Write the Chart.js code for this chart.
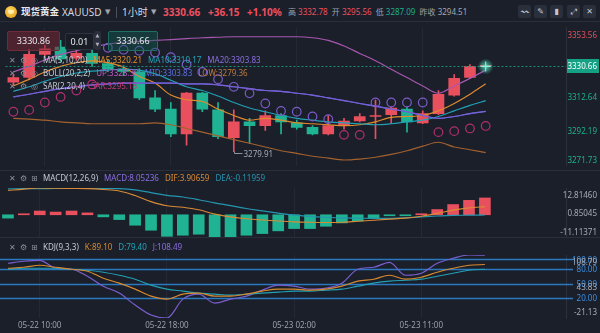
<!DOCTYPE html>
<html>
<head>
<meta charset="utf-8">
<title>现货黄金 XAUUSD 1小时</title>
<script src="https://cdn.jsdelivr.net/npm/chart.js@4.4.1/dist/chart.umd.min.js"></script>
<style>
  html, body { margin: 0; padding: 0; background: #1b1f2a; }
  #app { position: relative; width: 600px; height: 333px; overflow: hidden; background: #1b1f2a;
         font-family: "Noto Sans", "Noto Sans CJK SC", sans-serif; color: #c9ccd4; }
  canvas { position: absolute; left: 0; }
  .t { position: absolute; white-space: nowrap; font-size: 8px; line-height: 10px; }
  .hd { position: absolute; white-space: nowrap; font-size: 10px; line-height: 12px; top: 6px; }
  .ic { font-family: "DejaVu Sans", sans-serif; color: #8b909b; }
  .btn { position: absolute; top: 5px; width: 13px; height: 13px; background: #2a2f3c; border-radius: 2px;
         font-family: "DejaVu Sans", sans-serif; font-size: 8px; line-height: 13px; text-align: center; color: #c3c7cf; }
  .box { position: absolute; border-radius: 2px; text-align: center; font-size: 9px; color: #e6e8ec; }
  .div { position: absolute; left: 0; width: 600px; height: 1px; background: #2a2f3b; }
  .legend span.v { margin-left: 6px; }
</style>
</head>
<body>
<div id="app">
  <!-- header -->
  <div style="position:absolute;left:5px;top:6px;width:12px;height:12px;border-radius:50%;background:radial-gradient(circle at 40% 35%,#ffd860,#e3970f);"></div>
  <div style="position:absolute;left:8px;top:10px;width:6px;height:4px;border-radius:0 0 3px 3px;background:#fff3c8;opacity:.8"></div>
  <span class="hd" style="left:21px;color:#e8eaef;font-size:9.5px;font-weight:600">现货黄金</span>
  <span class="hd" style="left:62px;color:#d5d8df">XAUUSD</span>
  <span class="hd ic" style="left:105px;font-size:7px;color:#a0a5af">▼</span>
  <div style="position:absolute;left:116px;top:7px;width:1px;height:11px;background:#4a505c"></div>
  <span class="hd" style="left:122px;color:#d5d8df">1小时</span>
  <span class="hd ic" style="left:151px;font-size:7px;color:#a0a5af">▼</span>
  <span class="hd" id="hdPrice" style="left:163px;color:#f0505e;font-weight:700"></span>
  <span class="hd" id="hdChg" style="left:208px;color:#f0505e;font-weight:700"></span>
  <span class="hd" id="hdPct" style="left:247px;color:#f0505e;font-weight:700"></span>
  <span class="t" id="hdStats" style="left:288px;top:7px;color:#9ea3ad"></span>
  <div class="btn" style="left:518px">〰</div>
  <div class="btn" style="left:534px">✎</div>
  <div class="btn" style="left:550px">▮</div>
  <div class="btn" style="left:567px">⤢</div>
  <div class="btn" style="left:583px">✕</div>

  <div class="div" style="top:21px"></div>
  <canvas id="mainCv" style="top:22px" width="600" height="149"></canvas>
  <div class="div" style="top:170px"></div>
  <canvas id="macdCv" style="top:171px" width="600" height="67"></canvas>
  <div class="div" style="top:237px"></div>
  <canvas id="kdjCv" style="top:238px" width="600" height="95"></canvas>

  <!-- quote boxes -->
  <div class="box" id="askBox" style="left:7px;top:31px;width:51px;height:18px;line-height:18px;background:rgba(120,38,52,.55);border:1px solid #6e2c3b"></div>
  <div class="box" style="left:65px;top:33px;width:27px;height:15px;line-height:15px;background:#191d26;border:1px solid #2e3340">0.01</div>
  <div class="box ic" style="left:94px;top:31px;width:7px;height:19px;background:#2a2f3b;font-size:5px;line-height:9px;color:#aab">▲<br>▼</div>
  <div class="box" id="bidBox" style="left:108px;top:31px;width:48px;height:18px;line-height:18px;background:rgba(18,92,80,.45);border:1px solid #1d6f61"></div>

  <div class="t legend" id="lgMA" style="left:9px;top:55px"></div>
  <div class="t legend" id="lgBOLL" style="left:9px;top:68px"></div>
  <div class="t legend" id="lgSAR" style="left:9px;top:81px"></div>
  <div class="t legend" id="lgMACD" style="left:9px;top:173px"></div>
  <div class="t legend" id="lgKDJ" style="left:9px;top:242px"></div>
</div>

<script>
// ---- hourly bars, 05-22 08:00 .. 05-23 15:00 ----
const timeLabels = [
  '05-22 08:00','05-22 09:00','05-22 10:00','05-22 11:00','05-22 12:00','05-22 13:00','05-22 14:00','05-22 15:00',
  '05-22 16:00','05-22 17:00','05-22 18:00','05-22 19:00','05-22 20:00','05-22 21:00','05-22 22:00','05-22 23:00',
  '05-23 00:00','05-23 01:00','05-23 02:00','05-23 03:00','05-23 04:00','05-23 05:00','05-23 07:00','05-23 08:00',
  '05-23 09:00','05-23 10:00','05-23 11:00','05-23 12:00','05-23 13:00','05-23 14:00','05-23 15:00'
];
const axisBars = [2, 10, 18, 26];   // bars that carry a time label

const openP  = [3321.2,3323.9,3337.6,3342.0,3335.4,3338.2,3332.2,3329.0,3327.2,3311.8,3305.2,3290.4,3314.6,3304.7,3288.2,3297.6,
                3295.4,3301.4,3297.0,3294.3,3290.4,3295.9,3298.1,3300.8,3301.9,3305.2,3297.0,3302.5,3313.5,3323.9,3330.5];
const highP  = [3325.6,3340.4,3343.2,3346.0,3340.5,3340.0,3334.5,3331.0,3329.0,3316.2,3309.1,3315.1,3315.1,3309.1,3304.7,3299.7,
                3304.1,3302.5,3298.6,3295.4,3301.4,3299.7,3302.5,3310.5,3306.3,3306.3,3304.1,3316.2,3325.6,3331.6,3330.86];
const lowP   = [3319.5,3322.8,3336.0,3333.5,3334.0,3330.5,3327.5,3325.0,3310.7,3303.6,3288.8,3283.8,3303.6,3287.7,3279.91,3284.9,
                3292.6,3290.4,3293.2,3289.9,3289.9,3293.2,3297.6,3287.7,3296.5,3291.5,3296.5,3301.9,3312.9,3323.4,3330.4];
const closeP = [3323.9,3337.6,3340.9,3334.9,3338.2,3332.2,3329.0,3327.5,3311.8,3305.2,3290.4,3314.6,3305.2,3288.8,3297.6,3295.4,
                3301.4,3297.6,3294.3,3290.4,3295.4,3298.1,3300.8,3301.4,3305.8,3297.6,3302.5,3314.0,3323.4,3330.5,3330.66];

const ma5  = [3319.0,3322.8,3327.2,3330.5,3332.7,3333.8,3332.7,3330.0,3324.5,3320.6,3313.5,3310.7,3309.7,3305.2,3301.4,3298.6,
              3299.7,3298.6,3297.0,3296.5,3295.9,3295.4,3295.9,3297.6,3300.3,3300.8,3301.4,3304.1,3308.5,3314.0,3320.21];
const ma10 = [3315.7,3318.4,3321.7,3324.5,3326.6,3327.7,3328.3,3328.8,3328.3,3326.1,3322.3,3318.4,3316.2,3312.9,3309.1,3305.8,
              3303.6,3301.4,3299.7,3298.6,3297.6,3297.0,3296.5,3295.9,3296.5,3297.6,3298.6,3300.8,3304.1,3307.4,3310.17];
const ma20 = [3312.4,3314.0,3315.7,3317.3,3318.4,3319.5,3320.1,3320.6,3320.6,3320.6,3320.6,3320.1,3320.1,3319.5,3318.4,3317.3,
              3316.2,3315.7,3314.6,3313.5,3311.8,3310.2,3308.5,3306.9,3305.2,3303.6,3301.4,3299.7,3300.8,3302.5,3303.83];
const bollUp  = [3327.2,3330.5,3334.3,3337.6,3339.8,3342.0,3343.7,3344.8,3345.3,3345.9,3346.4,3347.0,3347.5,3347.8,3348.1,3348.1,
                 3348.1,3348.1,3348.1,3347.5,3345.9,3342.6,3338.2,3333.8,3328.8,3323.9,3318.9,3314.6,3318.9,3323.4,3328.30];
const bollLow = [3299.7,3299.2,3298.6,3297.6,3297.0,3296.5,3296.5,3296.5,3296.5,3297.0,3295.9,3293.7,3291.5,3289.3,3287.1,3284.9,
                 3282.7,3280.5,3278.9,3277.2,3276.1,3275.0,3275.5,3276.6,3278.3,3280.5,3283.2,3285.5,3282.7,3281.1,3279.36];
const sarP = [3303.6,3304.7,3309.1,3312.4,3316.2,3319.8,3341.5,3340.4,3339.8,3338.7,3336.0,3331.6,3327.2,3322.9,3318.4,3314.6,
              3308.5,3304.1,3303.6,3300.8,3299.2,3289.9,3289.9,3309.1,3309.1,3309.1,3309.1,3291.5,3292.1,3293.7,3295.18];

const macdBar = [-1.6,0.3,1.8,1.3,1.8,0.9,-1.0,-2.3,-5.0,-7.4,-10.3,-9.8,-9.3,-11.11371,-10.6,-9.8,
                 -9.0,-7.7,-6.6,-6.6,-5.5,-3.9,-3.0,-1.8,-0.4,-0.4,0.5,2.5,4.9,6.9,8.05236];
const difLine = [11.6,12.3,12.8146,12.7,12.6,12.5,12.1,11.4,9.2,6.3,4.3,3.6,2.4,0.3,-1.0,-1.9,
                 -2.5,-3.0,-3.4,-3.6,-3.7,-3.6,-3.1,-2.6,-2.1,-1.6,-0.7,0.7,2.2,3.3,3.90659];
const deaLine = [12.4,12.5,12.5,12.6,12.6,12.6,12.6,12.5,11.9,10.6,9.3,8.5,7.2,5.7,4.4,3.0,
                 1.9,0.8,-0.2,-0.8,-1.2,-1.5,-1.6,-1.7,-1.7,-1.5,-1.0,-0.6,-0.3,-0.2,-0.11959];

const kLine = [81.4,83.5,87.6,83.5,79.4,75.3,60.9,50.7,38.4,24.0,17.8,28.1,30.2,24.0,24.0,28.1,
               34.3,38.4,38.4,36.3,38.4,44.5,54.8,58.9,67.1,58.9,63.0,73.2,81.4,87.6,89.10];
const dLine = [79.4,81.4,81.4,81.4,79.4,77.3,73.2,67.1,58.9,46.6,38.4,34.3,30.2,28.1,26.1,28.1,
               30.2,32.2,34.3,34.3,36.3,38.4,44.5,50.7,54.8,56.8,58.9,65.0,71.2,77.3,79.40];
const jLine = [91.7,95.8,97.8,81.4,79.4,65.0,44.4,30.2,5.5,-15.0,-21.13,17.8,28.1,9.6,17.8,24.0,
               36.3,46.6,44.5,38.4,40.4,50.7,79.4,83.5,93.7,67.1,71.2,91.7,102.0,108.79,108.49];

const priceTicks = [3353.56, 3333.10, 3312.64, 3292.19, 3271.73];
const macdTicks  = [12.81460, 0.85045, -11.11371];
const kdjTicks   = [108.79, 43.83, -21.13];
const kdjLevels  = [100, 80, 50, 20];

const prevClose = 3294.51;
const dayStats = [['高', 3332.78], ['开', 3295.56], ['低', 3287.09], ['昨收', 3294.51]];
const askPrice = 3330.86;

// ---- styling ----
const FONT = '"Noto Sans", "DejaVu Sans", sans-serif';
const C = {
  grid: '#242935', border: '#2b303c', up: '#e9505e', down: '#1fb393',
  ma5: '#e08b2c', ma10: '#22a0b6', ma20: '#7a5fd6', mid: '#5863d8', bUp: '#a757ae', bLow: '#a3612f',
  sarHi: '#7a5cc8', sarLo: '#b0306f', dif: '#d98a35', dea: '#2596b0',
  k: '#d8892f', d: '#22a0b5', j: '#7b5fd0', level: '#2b78be', levelTxt: '#3d8fe0', axisTxt: '#a6abb5'
};
const N = closeP.length;
const VIEW_BARS = 35.6;   // bars that fit across the plot width
const pts = a => a.map((v, i) => ({ x: i, y: v }));
const last = a => a[a.length - 1];
const lastClose = last(closeP);

function xScale(showTicks) {
  return {
    type: 'linear', min: -0.5, max: VIEW_BARS - 0.5, offset: false,
    grid: { color: C.grid, drawTicks: false, lineWidth: 1, offset: false },
    border: { display: false },
    afterBuildTicks: s => { s.ticks = axisBars.map(v => ({ value: v })); },
    ticks: { display: showTicks, autoSkip: false, maxRotation: 0, padding: 3, color: '#9aa0aa',
             font: { family: FONT, size: 8 }, callback: v => timeLabels[v] },
    afterFit: s => { s.height = showTicks ? 15 : 0; s.paddingLeft = 0; s.paddingRight = 0; }
  };
}
function yScale(min, max) {
  return { position: 'right', min, max, grid: { display: false },
           border: { display: true, color: C.border }, ticks: { display: false },
           afterFit: s => { s.width = 34; } };
}
function line(data, color, extra) {
  return Object.assign({ type: 'line', data: pts(data), borderColor: color, borderWidth: 1.15,
    pointRadius: 0, fill: false, cubicInterpolationMode: 'monotone', order: 2 }, extra || {});
}
function axisLabels(ticks, decimals, colorFn, skipFn) {
  return {
    id: 'axisLabels',
    afterDraw(chart) {
      const { ctx, chartArea: a, scales: { y } } = chart;
      ctx.save();
      ctx.font = `8px ${FONT}`; ctx.textAlign = 'right'; ctx.textBaseline = 'middle';
      ticks.forEach(v => {
        if (skipFn && skipFn(v, y)) return;
        let py = y.getPixelForValue(v);
        py = Math.min(a.bottom - 6, Math.max(a.top + 7, py));
        ctx.fillStyle = colorFn(v);
        ctx.fillText(v.toFixed(decimals), 597, py + 1);
      });
      ctx.restore();
    }
  };
}
const base = {
  responsive: false, animation: false, events: [],
  layout: { padding: 0 },
  plugins: { legend: { display: false }, tooltip: { enabled: false } }
};
const candleColor = ctx => closeP[ctx.dataIndex] >= openP[ctx.dataIndex] ? C.up : C.down;

// ---- price pane ----
const priceDecor = {
  id: 'priceDecor',
  afterDatasetsDraw(chart) {
    const { ctx, chartArea: a, scales: { x, y } } = chart;
    const py = Math.round(y.getPixelForValue(lastClose)) + 0.5;
    ctx.save();
    ctx.strokeStyle = '#1c8d78'; ctx.lineWidth = 1; ctx.setLineDash([2, 2]);
    ctx.beginPath(); ctx.moveTo(a.left, py); ctx.lineTo(a.right, py); ctx.stroke();
    ctx.setLineDash([]);
    // live price marker
    const px = x.getPixelForValue(N - 1);
    const g = ctx.createRadialGradient(px, py, 0, px, py, 8);
    g.addColorStop(0, 'rgba(90,240,205,0.85)'); g.addColorStop(1, 'rgba(90,240,205,0)');
    ctx.fillStyle = g; ctx.beginPath(); ctx.arc(px, py, 8, 0, Math.PI * 2); ctx.fill();
    ctx.strokeStyle = '#8ff7df'; ctx.beginPath();
    ctx.moveTo(px - 5, py); ctx.lineTo(px + 5, py); ctx.moveTo(px, py - 5); ctx.lineTo(px, py + 5); ctx.stroke();
    // lowest low of the visible range
    let li = 0; lowP.forEach((v, i) => { if (v < lowP[li]) li = i; });
    const lx = Math.round(x.getPixelForValue(li)) + 0.5, ly = Math.round(y.getPixelForValue(lowP[li])) + 1.5;
    ctx.strokeStyle = '#8c919b'; ctx.beginPath(); ctx.moveTo(lx, ly - 2); ctx.lineTo(lx, ly); ctx.lineTo(lx + 8, ly); ctx.stroke();
    ctx.fillStyle = '#a3a8b2'; ctx.font = `8px ${FONT}`; ctx.textBaseline = 'middle';
    ctx.fillText(lowP[li].toFixed(2), lx + 9, ly + 1);
    ctx.restore();
  },
  afterDraw(chart) {
    const { ctx, scales: { y } } = chart;
    const py = Math.round(y.getPixelForValue(lastClose));
    ctx.save();
    ctx.fillStyle = '#14a184'; ctx.fillRect(567, py - 7, 32, 14);
    ctx.fillStyle = '#ffffff'; ctx.font = `8px ${FONT}`; ctx.textAlign = 'right'; ctx.textBaseline = 'middle';
    ctx.fillText(lastClose.toFixed(2), 597, py + 1);
    ctx.restore();
  }
};

new Chart(document.getElementById('mainCv'), {
  type: 'bar',
  data: { datasets: [
    { type: 'bar', data: lowP.map((v, i) => ({ x: i, y: [v, highP[i]] })), backgroundColor: candleColor,
      barThickness: 1, grouped: false, order: 9 },
    { type: 'bar', data: openP.map((v, i) => ({ x: i, y: [v, closeP[i]] })), backgroundColor: candleColor,
      barThickness: 11, minBarLength: 1, grouped: false, order: 8 },
    line(bollUp, C.bUp), line(bollLow, C.bLow),
    line(ma20, C.ma20), line(ma20, C.mid),
    line(ma10, C.ma10), line(ma5, C.ma5),
    { type: 'line', data: pts(sarP), showLine: false, pointRadius: 4.3, pointStyle: 'circle',
      pointBackgroundColor: 'rgba(0,0,0,0)', pointBorderWidth: 1.2, order: 1,
      pointBorderColor: ctx => sarP[ctx.dataIndex] > closeP[ctx.dataIndex] ? C.sarHi : C.sarLo }
  ] },
  options: Object.assign({}, base, {
    scales: { x: xScale(false), y: yScale(last(priceTicks), priceTicks[0]) }
  }),
  plugins: [priceDecor, axisLabels(priceTicks, 2, v => v > lastClose ? '#e0505c' : '#1fae8c',
    (v, y) => Math.abs(y.getPixelForValue(v) - y.getPixelForValue(lastClose)) < 12)]
});

// ---- MACD pane ----
new Chart(document.getElementById('macdCv'), {
  type: 'bar',
  data: { datasets: [
    { type: 'bar', data: pts(macdBar), barThickness: 11, minBarLength: 1, grouped: false, order: 5,
      backgroundColor: ctx => macdBar[ctx.dataIndex] >= 0 ? C.up : C.down },
    line(difLine, C.dif), line(deaLine, C.dea)
  ] },
  options: Object.assign({}, base, {
    layout: { padding: { top: 17 } },
    scales: { x: xScale(false), y: yScale(last(macdTicks), macdTicks[0]) }
  }),
  plugins: [axisLabels(macdTicks, 5, () => C.axisTxt)]
});

// ---- KDJ pane ----
const kdjLevelLines = {
  id: 'kdjLevels',
  beforeDatasetsDraw(chart) {
    const { ctx, chartArea: a, scales: { y } } = chart;
    ctx.save(); ctx.strokeStyle = C.level; ctx.lineWidth = 1.4;
    kdjLevels.forEach(v => {
      const py = Math.round(y.getPixelForValue(v)) + 0.5;
      ctx.beginPath(); ctx.moveTo(a.left, py); ctx.lineTo(573, py); ctx.stroke();
    });
    ctx.restore();
  },
  afterDraw(chart) {
    const { ctx, scales: { y } } = chart;
    ctx.save(); ctx.font = `8px ${FONT}`; ctx.textAlign = 'right'; ctx.textBaseline = 'middle';
    ctx.fillStyle = C.levelTxt;
    kdjLevels.forEach(v => ctx.fillText(v.toFixed(2), 597, y.getPixelForValue(v) + 1));
    ctx.restore();
  }
};
new Chart(document.getElementById('kdjCv'), {
  type: 'line',
  data: { datasets: [ line(kLine, C.k), line(dLine, C.d), line(jLine, C.j) ] },
  options: Object.assign({}, base, {
    layout: { padding: { top: 17 } },
    scales: { x: xScale(true), y: yScale(last(kdjTicks), kdjTicks[0]) }
  }),
  plugins: [kdjLevelLines, axisLabels(kdjTicks, 2, () => C.axisTxt)]
});

// ---- header & legends ----
const chg = lastClose - prevClose;
document.getElementById('hdPrice').textContent = lastClose.toFixed(2);
document.getElementById('hdChg').textContent = (chg >= 0 ? '+' : '') + chg.toFixed(2);
document.getElementById('hdPct').textContent = (chg >= 0 ? '+' : '') + (chg / prevClose * 100).toFixed(2) + '%';
const statColor = v => v > prevClose ? '#f0505e' : v < prevClose ? '#1fae8c' : '#a3a8b2';
document.getElementById('hdStats').innerHTML = dayStats.map(([k, v]) =>
  `${k} <span style="color:${statColor(v)}">${v.toFixed(2)}</span>`).join('&nbsp; ');
document.getElementById('askBox').textContent = askPrice.toFixed(2);
document.getElementById('bidBox').textContent = lastClose.toFixed(2);

function legend(id, icons, name, items) {
  const ic = icons.map(g => `<span class="ic" style="display:inline-block;width:11px">${g}</span>`).join('');
  document.getElementById(id).innerHTML = ic +
    `<span style="color:#c5c9d1;margin-left:1px">${name}</span>` +
    items.map(([label, v, d, col]) => `<span class="v" style="color:${col}">${label}:${v.toFixed(d)}</span>`).join('');
}
legend('lgMA', ['✕', '⚙', '◎'], 'MA(5,10,20)',
  [['MA5', last(ma5), 2, '#e3902f'], ['MA10', last(ma10), 2, '#22a6b8'], ['MA20', last(ma20), 2, '#8b6fe0']]);
legend('lgBOLL', ['✕', '⚙', '◎'], 'BOLL(20,2,2)',
  [['UP', last(bollUp), 2, '#c25ac6'], ['MID', last(ma20), 2, '#5d6fe2'], ['LOW', last(bollLow), 2, '#c07a3a']]);
legend('lgSAR', ['✕', '⚙', '◎'], 'SAR(2,20,4)', [['SAR', last(sarP), 2, '#c23a78']]);
legend('lgMACD', ['✕', '⚙', '⊞'], 'MACD(12,26,9)',
  [['MACD', last(macdBar), 5, '#8b6fe0'], ['DIF', last(difLine), 5, '#d98a35'], ['DEA', last(deaLine), 5, '#2596b0']]);
legend('lgKDJ', ['✕', '⚙', '⊞'], 'KDJ(9,3,3)',
  [['K', last(kLine), 2, '#d8892f'], ['D', last(dLine), 2, '#22a6b8'], ['J', last(jLine), 2, '#8b6fe0']]);
</script>
</body>
</html>
